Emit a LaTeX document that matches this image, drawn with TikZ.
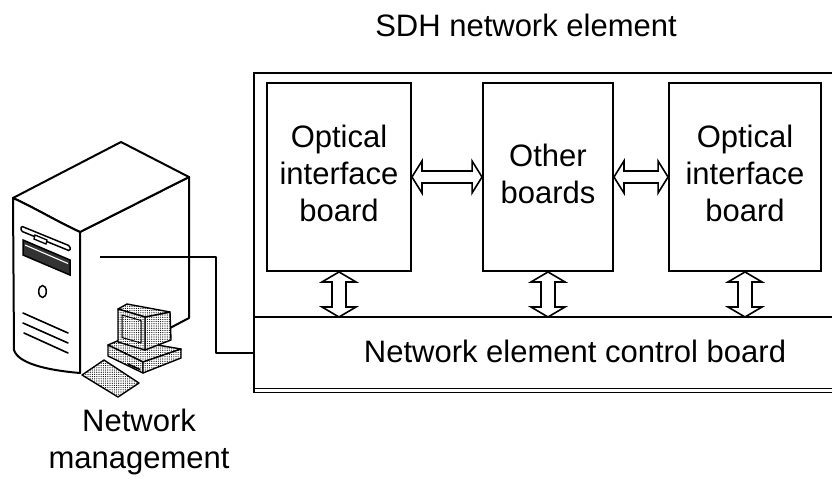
\documentclass[tikz,border=0pt]{standalone}
\usepackage{fontspec}
\setmainfont{Liberation Sans}
\usetikzlibrary{calc,patterns.meta}
\tikzset{
  lbl/.style={font=\fontsize{31}{37}\selectfont, inner sep=0pt, align=center},
  board/.style={draw, line width=1.9pt, minimum height=188pt, inner sep=0pt,
    font=\fontsize{31}{37}\selectfont, align=center, text depth=7pt},
  frameline/.style={line width=1.7pt},
  biarrow/.style={draw, line width=1.6pt, fill=white, line join=miter},
  towerline/.style={line width=2pt, line join=round},
  stipple/.style={line width=1.4pt, line join=round, preaction={fill=white},
    pattern={Dots[distance=2.2pt, radius=0.6pt]}},
}
\newcommand\hdarrow[2]{\path[biarrow] let \p1=(#1), \p2=(#2) in
  (\x1,\y1) -- (\x1+10pt,\y1+16pt) -- (\x1+10pt,\y1+6pt) -- (\x2-10pt,\y1+6pt)
  -- (\x2-10pt,\y1+16pt) -- (\x2,\y1) -- (\x2-10pt,\y1-16pt) -- (\x2-10pt,\y1-6pt)
  -- (\x1+10pt,\y1-6pt) -- (\x1+10pt,\y1-16pt) -- cycle;}
\newcommand\vdarrow[2]{\path[biarrow] let \p1=(#1), \p2=(#2) in
  (\x1,\y1) -- (\x1+17pt,\y1-10pt) -- (\x1+7pt,\y1-10pt) -- (\x1+7pt,\y2+10pt)
  -- (\x1+17pt,\y2+10pt) -- (\x1,\y2) -- (\x1-17pt,\y2+10pt) -- (\x1-7pt,\y2+10pt)
  -- (\x1-7pt,\y1-10pt) -- (\x1-17pt,\y1-10pt) -- cycle;}
\begin{document}
\begin{tikzpicture}[x=1pt,y=-1pt]
\useasboundingbox (0,0) rectangle (832,480);

% ---------- SDH network element ----------
\node[lbl, anchor=base] (title) at (526,36) {SDH network element};
\node[board, minimum width=144pt] (b1) at (339,177) {Optical\\interface\\board};
\node[board, minimum width=130pt] (b2) at (548,177) {Other\\boards};
\node[board, minimum width=152pt] (b3) at (745,177) {Optical\\interface\\board};
\node[inner sep=0pt, minimum width=578pt, minimum height=71pt, anchor=north west] (ctrl) at (254,317) {};
\node[lbl, anchor=base] (ctrltext) at (575,362) {Network element control board};

\draw[frameline] (832,73) -- (254,73) -- ([yshift=-4pt]ctrl.south west) -- ([yshift=-4pt]ctrl.south east);
\draw[frameline] (ctrl.north west) -- (ctrl.north east);
\draw[frameline] (ctrl.south west) -- (ctrl.south east);

\hdarrow{b1.east}{b2.west}
\hdarrow{b2.east}{b3.west}
\vdarrow{b1.south}{b1.south |- ctrl.north}
\vdarrow{b2.south}{b2.south |- ctrl.north}
\vdarrow{b3.south}{b3.south |- ctrl.north}

% ---------- tower ----------
\fill[white] (80,232) -- (189,177) -- (189,318) -- (170,328) -- (80,373) -- cycle;
\draw[towerline] (80,232) -- (189,177) -- (189,318) -- (170,328);
\draw[towerline, fill=white] (13,198) -- (121,142) -- (189,177) -- (80,232)
  .. controls (58,222) and (35,208) .. (13,198) -- cycle;
\draw[towerline, fill=white] (13,198) .. controls (35,208) and (58,222) .. (80,232)
  -- (80,373) .. controls (45,370) and (18,363) .. (14,350) -- cycle;
% slot and button
\draw[line width=1.5pt, fill=white, rounded corners=1.5pt] (21,226) -- (70,246) -- (70,251) -- (21,231) -- cycle;
\draw[line width=1.3pt, fill=white] (35,235) -- (47,240) -- (46,244) -- (34,239) -- cycle;
% drive bay
\draw[line width=1.5pt, fill=black!80] (23,240) -- (70,260) -- (70,275) -- (23,255) -- cycle;
\draw[white, line width=1.1pt] (25,245) -- (68,263.5);
% power button
\draw[line width=1.5pt] (42.5,291.5) ellipse (3.8 and 6);
% vents
\draw[line width=1.6pt, line cap=round] (23,313) -- (68,333) (23,323) -- (68,343) (24,333) -- (68,353);

% connector
\coordinate (pc) at (100,257);
\coordinate (bend) at (216,0);
\draw[towerline] (pc) -- (pc -| bend) |- (ctrl.west);

% ---------- desktop computer ----------
\draw[stipple] (108,345) -- (122,339) -- (181,349) -- (143,362) -- cycle;
\draw[stipple] (108,345) -- (143,362) -- (143,373) -- (108,356) -- cycle;
\draw[stipple] (143,362) -- (181,349) -- (181,358) -- (143,373) -- cycle;
\draw[line width=1.6pt] (128,364) -- (140,369.5);
\draw[stipple] (145,317) -- (170,312) -- (171,340) -- (145,350) -- cycle;
\draw[stipple] (118,309) -- (127,304) -- (170,312) -- (145,317) -- cycle;
\draw[stipple] (118,309) -- (145,317) -- (145,350) -- (118,342) -- cycle;
\draw[stipple, line width=1pt] (122,315) -- (141,320.5) -- (141,343) -- (122,337.5) -- cycle;
\draw[stipple] (82,375) -- (104,360) -- (139,383) -- (118,397) -- cycle;

\node[lbl] (nm) at (139,442) {Network\\management};
\end{tikzpicture}
\end{document}
